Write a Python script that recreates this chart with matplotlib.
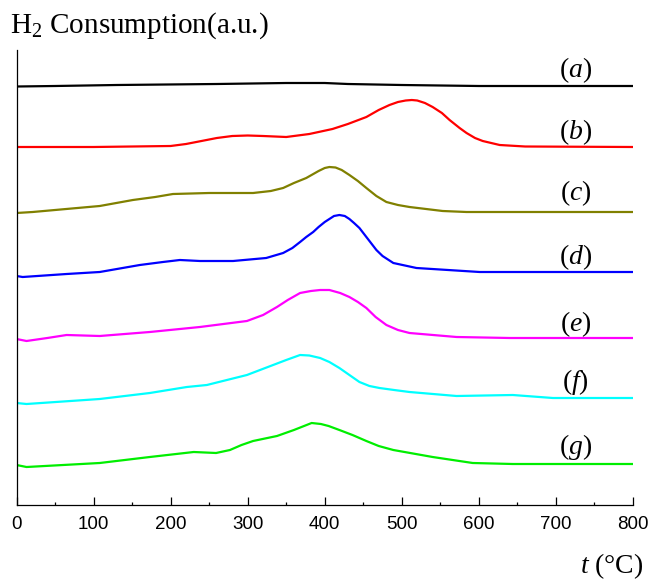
import matplotlib
matplotlib.use("Agg")
import matplotlib.pyplot as plt
import numpy as np

plt.rcParams['mathtext.fontset'] = 'custom'
plt.rcParams['mathtext.rm'] = 'Liberation Serif'
plt.rcParams['mathtext.it'] = 'Liberation Serif:italic'
plt.rcParams['mathtext.bf'] = 'Liberation Serif:bold'

# Temperature (°C) and H2 consumption signal (a.u., stacked)
t_a = [0, 50, 130, 260, 350, 400, 430, 500, 600, 800]
s_a = [411.5, 412, 413, 414, 415, 415, 414, 413, 412, 412]

t_b = [0, 100, 200, 220, 240, 260, 280, 300, 320, 350, 380, 410, 430, 454, 470, 484, 495, 505, 513, 520, 530, 540, 552, 562, 575, 584, 595, 605, 627, 660, 800]
s_b = [351, 351, 352, 354, 357, 360, 362, 362.5, 362, 361, 364, 369, 374, 381, 388, 393, 396, 397.5, 398, 397.5, 395, 391, 385, 378, 370, 365, 360, 357, 353, 351.5, 351]

t_c = [0, 21, 108, 151, 180, 203, 250, 307, 330, 346, 360, 376, 392, 400, 406, 414, 422, 432, 443, 454, 467, 480, 495, 510, 553, 584, 800]
s_c = [285, 286, 292, 298, 301, 304, 305, 305, 307, 310, 315, 320, 327, 330, 331, 330.5, 328, 323, 317, 310, 302, 296, 293, 291, 287, 286, 286]

t_d = [0, 8, 65, 108, 160, 190, 212, 238, 281, 324, 346, 358, 368, 376, 385, 392, 400, 406, 412, 419, 426, 432, 438, 445, 450, 456, 461, 467, 475, 489, 519, 601, 800]
s_d = [222, 221, 224, 226, 233, 236, 238, 237, 237, 240, 245, 250, 256, 261, 266, 271, 276, 279, 282, 283, 282, 279, 275, 270, 265, 259, 254, 248, 242, 235, 230, 226, 226]

t_e = [0, 13, 40, 65, 108, 173, 238, 299, 320, 338, 352, 368, 382, 394, 406, 420, 432, 443, 454, 466, 480, 495, 510, 571, 640, 800]
s_e = [159, 157, 160, 163, 162, 166, 171, 177, 183, 191, 198, 205, 207, 208, 208, 205, 201, 196, 190, 181, 173, 168, 165, 161, 160, 160]

t_f = [0, 13, 108, 173, 221, 247, 299, 333, 350, 368, 380, 394, 406, 419, 432, 445, 458, 471, 490, 510, 571, 644, 696, 800]
s_f = [95, 94, 99, 105, 111, 113, 123, 133, 138, 143, 142.5, 140, 136, 130, 123, 116, 112, 110, 108, 106, 102, 103, 100, 100]

t_g = [0, 13, 108, 173, 230, 259, 277, 292, 307, 338, 360, 383, 395, 405, 419, 436, 454, 470, 489, 540, 592, 644, 800]
s_g = [33, 31, 35, 41, 46, 45, 48, 53, 57, 62, 68, 75, 74, 72, 68, 63, 57, 52, 48, 41, 35, 34, 34]

series = [
    (t_a, s_a, '#000000', 'a', 428),
    (t_b, s_b, '#FF0000', 'b', 366),
    (t_c, s_c, '#808000', 'c', 305),
    (t_d, s_d, '#0000FF', 'd', 241),
    (t_e, s_e, '#FF00FF', 'e', 174),
    (t_f, s_f, '#00FFFF', 'f', 116),
    (t_g, s_g, '#00EE00', 'g', 51),
]
label_t = 726

W, H = 651, 583
fig = plt.figure(figsize=(W / 100, H / 100), dpi=100)
ax = fig.add_axes([16.5 / W, (H - 505) / H, (633 - 16.5) / W, (505 - 50) / H])

for t, s, c, lab, ly in series:
    ax.plot(t, s, color=c, lw=1.6, solid_joinstyle='round', solid_capstyle='round')
    ax.text(label_t, ly, r'$(\mathit{%s})$' % lab, fontsize=20, ha='center', va='center')

ax.set_xlim(0, 800)
ax.set_ylim(-7, 448)
ax.spines['top'].set_visible(False)
ax.spines['right'].set_visible(False)
for sp in ('left', 'bottom'):
    ax.spines[sp].set_linewidth(0.9)
ax.set_yticks([])
ax.set_xticks(np.arange(0, 801, 100))
ax.set_xticks(np.arange(50, 800, 100), minor=True)
ax.tick_params(axis='x', which='major', direction='in', length=5.6, width=0.9, pad=8)
ax.tick_params(axis='x', which='minor', direction='in', length=2.4, width=0.9)
for lbl in ax.get_xticklabels():
    lbl.set_fontfamily('Liberation Sans')
    lbl.set_fontsize(13.5)

fig.text(10 / W, (H - 33) / H, r'H$_2$ Consumption(a.u.)', fontsize=21,
         family='Liberation Serif', ha='left', va='baseline')
fig.text(643 / W, (H - 566) / H, r'$t$ (°C)', fontsize=20,
         family='Liberation Serif', ha='right', va='center')

fig.savefig('out.png', dpi=100)
